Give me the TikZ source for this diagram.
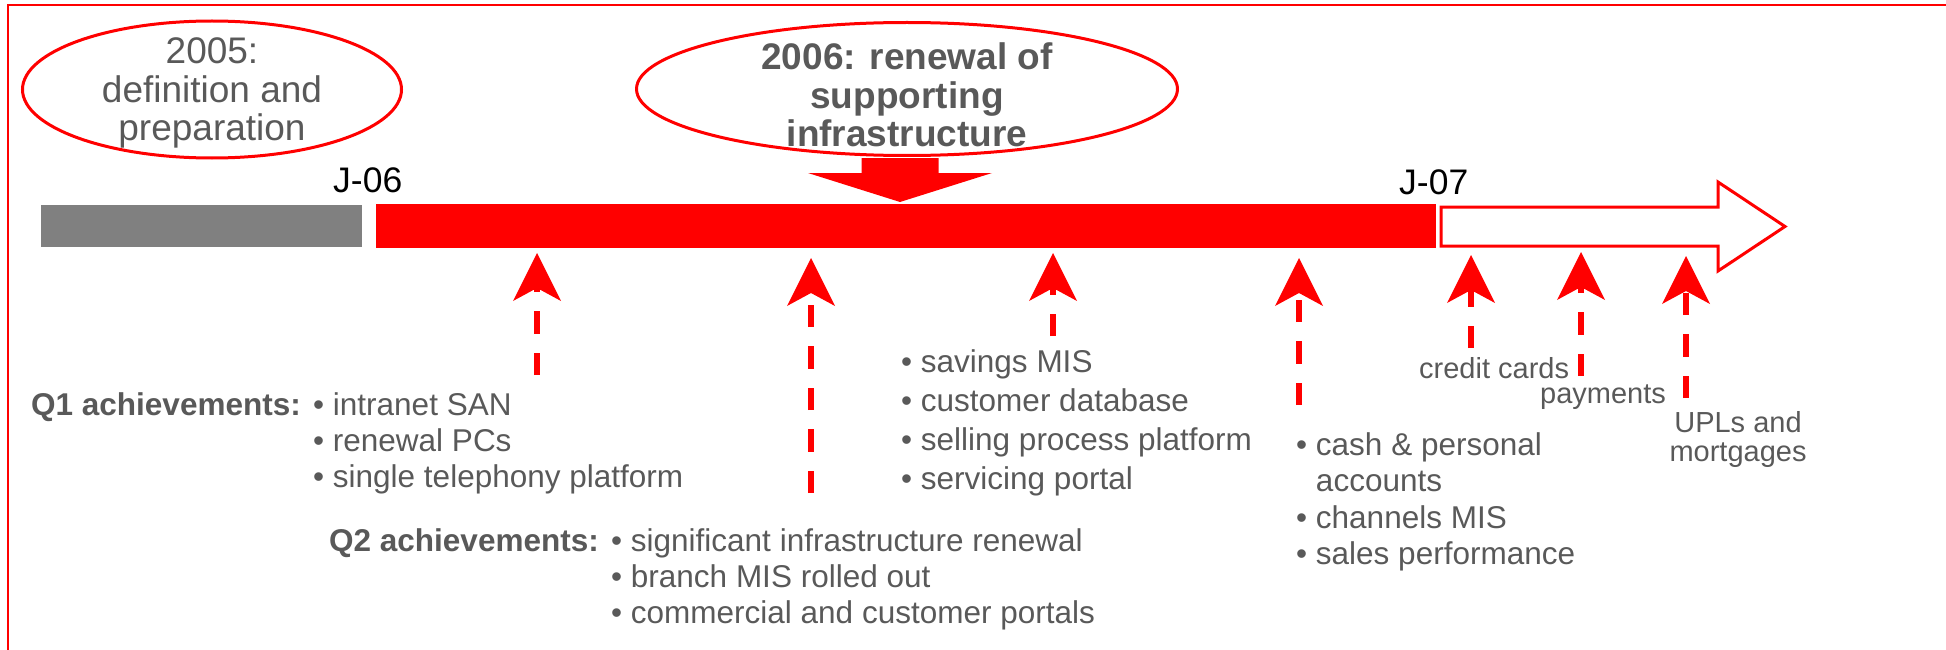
\documentclass[tikz,border=0pt]{standalone}
\usepackage{fontspec}
\setmainfont{Liberation Sans}
\usetikzlibrary{shapes.geometric,arrows.meta,calc}

\definecolor{txtgrey}{RGB}{89,89,89}
\definecolor{bargrey}{RGB}{128,128,128}
\definecolor{pptred}{RGB}{255,0,0}

\tikzset{
  frame/.style={draw=pptred, line width=2.3pt, line join=miter},
  yearoval/.style={ellipse, draw=pptred, line width=3pt, inner sep=0pt, fill=white},
  yeartxt/.style={text=txtgrey, inner sep=0pt, anchor=base, font=\fontsize{37}{37.5}\selectfont},
  datetxt/.style={text=black, inner sep=0pt, anchor=base west, font=\fontsize{35.5}{36}\selectfont},
  qhead/.style={text=txtgrey, inner sep=0pt, anchor=base west, font=\bfseries\fontsize{31.5}{36}\selectfont},
  itemlist/.style={text=txtgrey, inner sep=0pt, anchor=base west, font=\fontsize{31.5}{36}\selectfont},
  widelist/.style={itemlist, font=\fontsize{31.5}{39}\selectfont},
  prodtxt/.style={text=txtgrey, inner sep=0pt, anchor=base west, font=\fontsize{29}{29}\selectfont},
  achv/.style={draw=pptred, line width=5.5pt, dash pattern=on 22.5pt off 19pt,
    -{Stealth[length=48pt, width=48pt, inset=13pt, line width=0pt]}},
}

\begin{document}
\begin{tikzpicture}[x=1pt, y=-1pt]
\useasboundingbox (0,0) rectangle (1946,650);

% outer frame (left and top edges)
\draw[frame] (8,650) -- (8,4.7) -- (1946,4.7);

% timeline bars
\fill[bargrey] (41,205) rectangle (362,247);
\fill[pptred] (376,204) rectangle (1436,248);
\draw[pptred, line width=3pt, fill=white, line join=miter]
  (1441,207) -- (1718,207) -- (1718,182) -- (1785,226.5) -- (1718,271)
  -- (1718,246) -- (1441,246) -- cycle;

% year ovals
\node[yearoval, minimum width=379pt, minimum height=137pt] (y05) at (212,89.5) {};
\node[yeartxt] (y05t) at (212,64)
  {\begin{tabular}[t]{@{}c@{}}2005:\\definition and\\preparation\end{tabular}};

\node[yearoval, minimum width=541pt, minimum height=133pt] (y06) at (907,89) {};
\node[yeartxt, font=\bfseries\fontsize{37}{37.5}\selectfont] (y06t) at (907,70)
  {\begin{tabular}[t]{@{}c@{}}2006: renewal of\\supporting\\infrastructure\end{tabular}};

% block arrow from the 2006 oval onto the bar
\coordinate (y06foot) at (900,202);
\fill[pptred] ($(y06.south)+(-45.5,1)$) -- ($(y06.south)+(31.5,1)$)
  -- ($(y06.south)+(31.5,16)$) -- ($(y06.south)+(85,16)$) -- (y06foot)
  -- ($(y06.south)+(-99,16)$) -- ($(y06.south)+(-45.5,16)$) -- cycle;

% date labels
\node[datetxt] (j06) at (333,192) {J-06};
\node[datetxt] (j07) at (1399,194) {J-07};

% achievement lists
\node[qhead] (q1h) at (31,415) {Q1 achievements:};
\node[itemlist] (q1l) at (313,415)
  {\begin{tabular}[t]{@{}l@{}}• intranet SAN\\• renewal PCs\\• single telephony platform\end{tabular}};

\node[qhead] (q2h) at (329,551) {Q2 achievements:};
\node[itemlist] (q2l) at (611,551)
  {\begin{tabular}[t]{@{}l@{}}• significant infrastructure renewal\\• branch MIS rolled out\\• commercial and customer portals\end{tabular}};

\node[widelist] (q3l) at (901,372)
  {\begin{tabular}[t]{@{}l@{}}• savings MIS\\• customer database\\• selling process platform\\• servicing portal\end{tabular}};

\node[itemlist, font=\fontsize{31.5}{36.5}\selectfont] (q4l) at (1296,455)
  {\begin{tabular}[t]{@{}l@{}}• cash \& personal\\\phantom{•\ }accounts\\• channels MIS\\• sales performance\end{tabular}};

% 2007 products
\node[prodtxt] (cc) at (1419,378) {credit cards};
\node[prodtxt] (pay) at (1540,403) {payments};
\node[prodtxt, anchor=base] (upl) at (1738,432)
  {\begin{tabular}[t]{@{}c@{}}UPLs and\\mortgages\end{tabular}};

% dashed arrows pointing at the timeline
\coordinate (a1s) at (537,375);  \coordinate (a1e) at (537,253);
\coordinate (a2s) at (811,493);  \coordinate (a2e) at (811,258);
\coordinate (a3s) at (1053,336); \coordinate (a3e) at (1053,253);
\coordinate (a4s) at (1299,405); \coordinate (a4e) at (1299,258);
\coordinate (a5s) at (1471,348); \coordinate (a5e) at (1471,255);
\coordinate (a6s) at (1581,376); \coordinate (a6e) at (1581,252);
\coordinate (a7s) at (1686,398); \coordinate (a7e) at (1686,256);
\foreach \k in {1,...,7}{
  \draw[achv] (a\k s) -- (a\k e);
}
\end{tikzpicture}
\end{document}
